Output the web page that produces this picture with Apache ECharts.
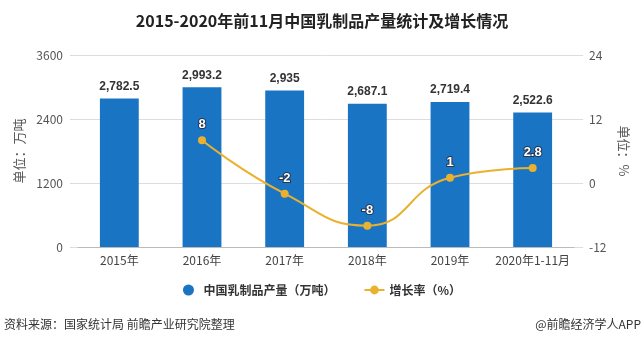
<!DOCTYPE html>
<html><head><meta charset="utf-8">
<script src="https://cdn.jsdelivr.net/npm/echarts@6/dist/echarts.min.js"></script>
<style>html,body{margin:0;padding:0;background:#fff}#c{width:644px;height:349px}</style>
</head><body><div id="c"></div>
<script>
const categories = ['2015年','2016年','2017年','2018年','2019年','2020年1-11月'];
const production = [2782.5, 2993.2, 2935, 2687.1, 2719.4, 2522.6];
const growth = ['-', 8, -2, -8, 1, 2.8];
const leftTicks = {min: 0, max: 3600, interval: 1200};
const rightTicks = {min: -12, max: 24, interval: 12};

const FONT = '"Noto Sans CJK SC", "Microsoft YaHei", sans-serif';
const chart = echarts.init(document.getElementById('c'), null, {renderer: 'canvas'});
chart.setOption({
  animation: false,
  textStyle: {fontFamily: FONT},
  title: {
    text: '2015-2020年前11月中国乳制品产量统计及增长情况',
    left: 'center', top: 8,
    textStyle: {fontSize: 16, fontWeight: 'bold', color: '#222', fontFamily: FONT}
  },
  legend: {
    bottom: 48, left: 'center', itemGap: 28, itemWidth: 20, itemHeight: 11,
    textStyle: {fontSize: 12, color: '#333', fontWeight: 'bold', fontFamily: FONT},
    data: [{name: '中国乳制品产量（万吨）', icon: 'circle'}, {name: '增长率（%）'}]
  },
  grid: [
    {left: 70, right: 61, top: 55, height: 192},
    {left: 78, right: 70, top: 55, height: 192}
  ],
  xAxis: [
    {gridIndex: 0, type: 'category', data: categories, show: false},
    {gridIndex: 1, type: 'category', data: categories,
     axisLine: {lineStyle: {color: '#bbb'}},
     axisTick: {alignWithLabel: true, length: 4, lineStyle: {color: '#bbb'}},
     axisLabel: {interval: 0, color: '#444', fontSize: 12, margin: 7, fontFamily: FONT}}
  ],
  yAxis: [
    {gridIndex: 0, type: 'value', position: 'left', min: leftTicks.min, max: leftTicks.max, interval: leftTicks.interval,
     name: '单位：万吨', nameLocation: 'middle', nameGap: 40, nameRotate: 90,
     nameTextStyle: {color: '#555', fontSize: 13, fontFamily: FONT},
     axisLine: {show: false}, axisTick: {show: false},
     axisLabel: {color: '#555', fontSize: 12, margin: 7, formatter: v => String(v)},
     splitLine: {lineStyle: {color: '#ddd'}}},
    {gridIndex: 0, type: 'value', position: 'right', min: rightTicks.min, max: rightTicks.max, interval: rightTicks.interval,
     name: '单位：%', nameLocation: 'middle', nameGap: 32, nameRotate: -90,
     nameTextStyle: {color: '#555', fontSize: 13, fontFamily: FONT},
     axisLine: {show: false}, axisTick: {show: false},
     axisLabel: {color: '#555', fontSize: 12, margin: 6},
     splitLine: {show: false}},
    {gridIndex: 1, type: 'value', min: leftTicks.min, max: leftTicks.max, interval: leftTicks.interval, show: false},
    {gridIndex: 1, type: 'value', min: rightTicks.min, max: rightTicks.max, interval: rightTicks.interval, show: false}
  ],
  series: [
    {name: '中国乳制品产量（万吨）', type: 'bar', xAxisIndex: 1, yAxisIndex: 2,
     data: production, barWidth: '47%',
     itemStyle: {color: '#1a74c4'},
     label: {show: true, position: 'top', distance: 6, color: '#333', fontWeight: 'bold', fontSize: 12,
       fontFamily: 'Arial, "Liberation Sans", sans-serif',
       formatter: p => p.value.toLocaleString('en-US', {maximumFractionDigits: 1})}},
    {name: '增长率（%）', type: 'line', xAxisIndex: 1, yAxisIndex: 3,
     data: growth, smooth: true, symbol: 'circle', symbolSize: 8,
     lineStyle: {color: '#eab12f', width: 2}, itemStyle: {color: '#eab12f'},
     label: {show: true, position: 'top', distance: 5, color: '#fff', fontWeight: 'bold', fontSize: 13,
       fontFamily: 'Arial, "Liberation Sans", sans-serif',
       textBorderColor: '#243650', textBorderWidth: 2}}
  ],
  graphic: [
    {type: 'text', left: 4, top: 318, style: {text: '资料来源：国家统计局 前瞻产业研究院整理', fill: '#333', fontSize: 12, fontFamily: FONT}},
    {type: 'text', right: 3, top: 318, style: {text: '@前瞻经济学人APP', fill: '#333', fontSize: 12, fontFamily: FONT}}
  ]
});
</script></body></html>
